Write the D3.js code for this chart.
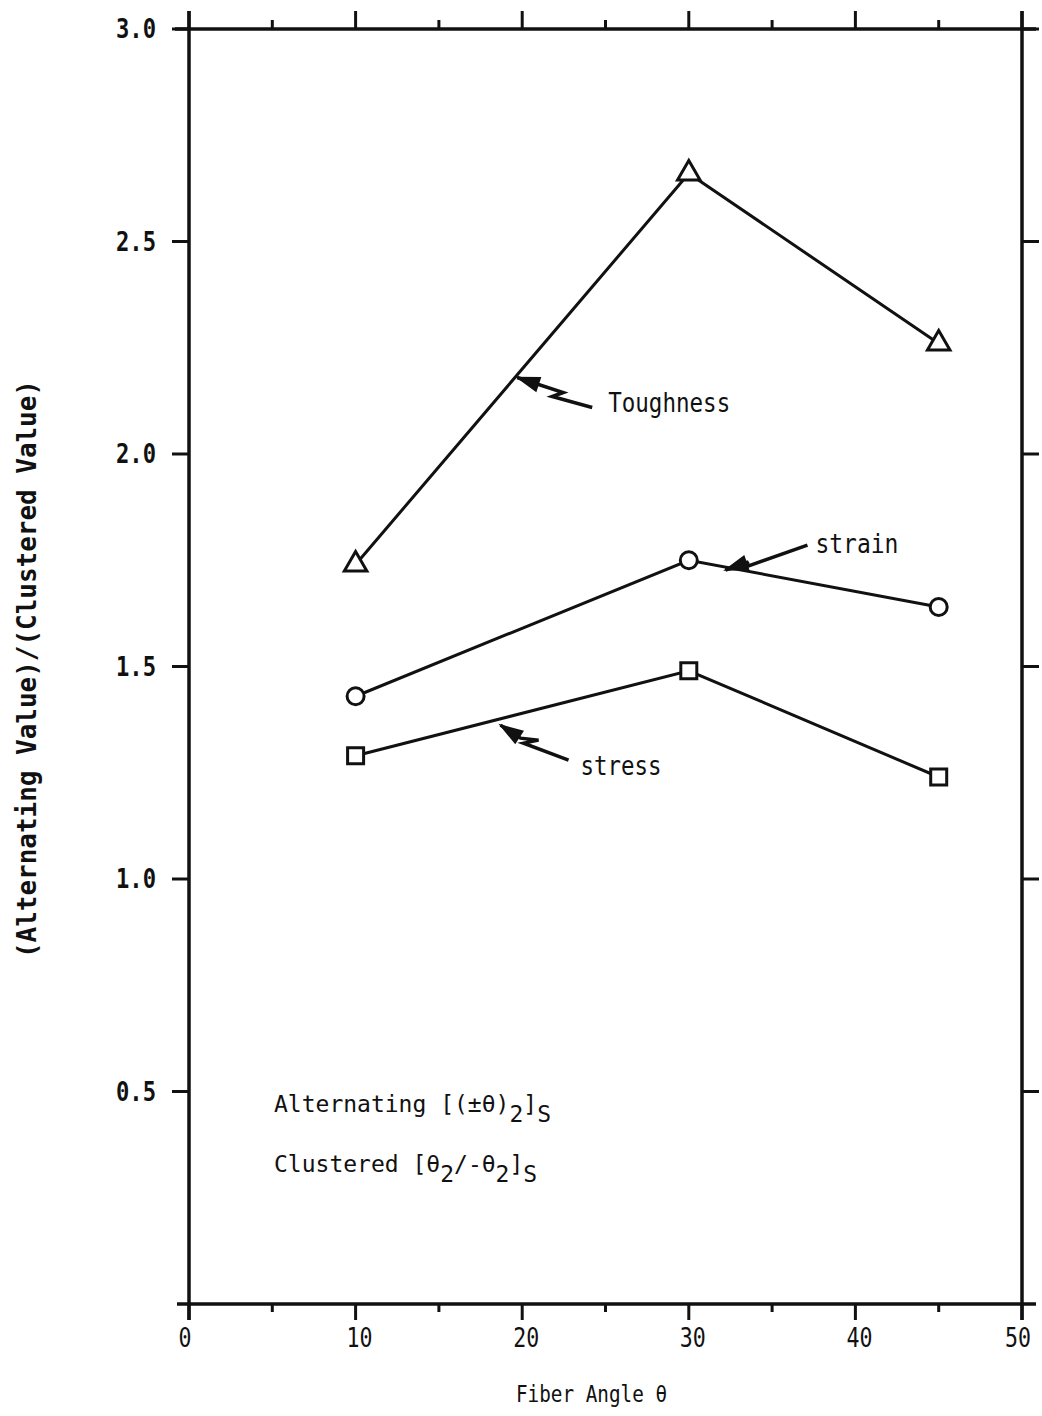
<!DOCTYPE html>
<html>
<head>
<meta charset="utf-8">
<script src="https://cdn.jsdelivr.net/npm/d3@7"></script>
<style>
  body { margin: 0; background: #fff; }
  svg text { font-family: "DejaVu Sans Mono", monospace; fill: #111; }
</style>
</head>
<body>
<div id="container"></div>
<script>
// fiber angles (deg) and ratios alternating / clustered
const angles = [10, 30, 45];
const toughness = [1.74, 2.66, 2.26];
const strain = [1.43, 1.75, 1.64];
const stress = [1.29, 1.49, 1.24];

const xTicks = [0, 10, 20, 30, 40, 50];
const xMinor = [5, 15, 25, 35, 45];
const yTicks = [0.5, 1.0, 1.5, 2.0, 2.5, 3.0];

// annotation arrows: tip in data units, zigzag offsets, label
const notes = [
    { label: "Toughness", x: 19.7, y: 2.18, zig: [[0, 0], [46, 15], [35, 19], [75, 30]], tx: 91, ty: 34, w: 122 },
    { label: "strain", x: 32.2, y: 1.727, zig: [[0, 0], [23, -8], [17, -2], [82, -25]], tx: 90, ty: -17, w: 83 },
    { label: "stress", x: 18.7, y: 1.362, zig: [[0, 0], [20, 13], [38, 15], [23, 18], [68, 35]], tx: 80, ty: 50, w: 81 }
];

document.addEventListener("DOMContentLoaded", function () {
    const width = 1042, height = 1416;

    const svg = d3.select("#container").append("svg")
        .attr("width", width)
        .attr("height", height);

    const x = d3.scaleLinear([0, 50], [189, 1022]);
    const y = d3.scaleLinear([0, 3], [1304, 29]);

    const ink = "#111";

    // frame
    const frame = svg.append("g").attr("stroke", ink).attr("stroke-width", 3.5).attr("fill", "none");
    frame.append("line").attr("x1", x(0) - 14).attr("x2", x(50) + 14).attr("y1", y(3)).attr("y2", y(3));
    frame.append("line").attr("x1", x(0) - 12).attr("x2", x(50) + 14).attr("y1", y(0)).attr("y2", y(0));
    frame.append("line").attr("x1", x(0)).attr("x2", x(0)).attr("y1", y(3) - 18).attr("y2", y(0) + 16);
    frame.append("line").attr("x1", x(50)).attr("x2", x(50)).attr("y1", y(3) - 18).attr("y2", y(0) + 16);

    // ticks (top up, bottom down, left out, right out)
    const tk = svg.append("g").attr("stroke", ink).attr("stroke-width", 3);
    xTicks.forEach(function (v) {
        tk.append("line").attr("x1", x(v)).attr("x2", x(v)).attr("y1", y(3)).attr("y2", y(3) - 18);
        tk.append("line").attr("x1", x(v)).attr("x2", x(v)).attr("y1", y(0)).attr("y2", y(0) + 16);
    });
    xMinor.forEach(function (v) {
        tk.append("line").attr("x1", x(v)).attr("x2", x(v)).attr("y1", y(3)).attr("y2", y(3) - 9);
        tk.append("line").attr("x1", x(v)).attr("x2", x(v)).attr("y1", y(0)).attr("y2", y(0) + 8);
    });
    yTicks.forEach(function (v) {
        tk.append("line").attr("x1", x(0)).attr("x2", x(0) - 17).attr("y1", y(v)).attr("y2", y(v));
        tk.append("line").attr("x1", x(50)).attr("x2", x(50) + 17).attr("y1", y(v)).attr("y2", y(v));
    });

    // tick labels
    svg.append("g").selectAll("text").data(xTicks).join("text")
        .attr("x", d => x(d) + (d === 0 || d === 50 ? -4 : 4))
        .attr("y", y(0) + 43)
        .attr("text-anchor", "middle")
        .attr("textLength", d => String(d).length * 13)
        .attr("lengthAdjust", "spacingAndGlyphs")
        .style("font-size", "27px")
        .text(d => d);

    svg.append("g").selectAll("text").data(yTicks).join("text")
        .attr("x", x(0) - 73)
        .attr("y", d => y(d) + 9)
        .attr("textLength", 40)
        .attr("lengthAdjust", "spacingAndGlyphs")
        .style("font-size", "26px")
        .style("font-weight", "bold")
        .text(d => d3.format(".1f")(d));

    // axis titles
    svg.append("text")
        .attr("x", 516)
        .attr("y", 1402)
        .attr("textLength", 151)
        .attr("lengthAdjust", "spacingAndGlyphs")
        .style("font-size", "23px")
        .text("Fiber Angle \u03b8");

    svg.append("text")
        .attr("transform", "translate(36,958) rotate(-90)")
        .attr("textLength", 578)
        .attr("lengthAdjust", "spacingAndGlyphs")
        .style("font-size", "26px")
        .style("font-weight", "bold")
        .text("(Alternating Value)/(Clustered Value)");

    // series lines
    const line = d3.line().x(d => x(d[0])).y(d => y(d[1]));
    [toughness, strain, stress].forEach(function (vals) {
        svg.append("path")
            .datum(d3.zip(angles, vals))
            .attr("d", line)
            .attr("fill", "none")
            .attr("stroke", ink)
            .attr("stroke-width", 3);
    });

    // markers
    const mk = svg.append("g").attr("fill", "#fff").attr("stroke", ink).attr("stroke-width", 3);
    mk.selectAll("path.tri").data(d3.zip(angles, toughness)).join("path")
        .attr("class", "tri")
        .attr("d", d3.symbol(d3.symbolTriangle, 220))
        .attr("transform", d => `translate(${x(d[0])},${y(d[1])})`);
    mk.selectAll("circle").data(d3.zip(angles, strain)).join("circle")
        .attr("cx", d => x(d[0]))
        .attr("cy", d => y(d[1]))
        .attr("r", 8.5);
    mk.selectAll("rect").data(d3.zip(angles, stress)).join("rect")
        .attr("x", d => x(d[0]) - 8)
        .attr("y", d => y(d[1]) - 8)
        .attr("width", 16)
        .attr("height", 16);

    // annotations with zigzag arrows
    notes.forEach(function (n) {
        const g = svg.append("g").attr("transform", `translate(${x(n.x)},${y(n.y)})`);
        const pts = n.zig;
        g.append("path")
            .attr("d", d3.line()(pts))
            .attr("fill", "none")
            .attr("stroke", ink)
            .attr("stroke-width", 3.5);
        // arrow head pointing to the tip
        const a = Math.atan2(pts[1][1], pts[1][0]);
        const hl = 22, hw = 7;
        const head = [
            [0, 0],
            [hl * Math.cos(a) - hw * Math.sin(a), hl * Math.sin(a) + hw * Math.cos(a)],
            [hl * Math.cos(a) + hw * Math.sin(a), hl * Math.sin(a) - hw * Math.cos(a)]
        ];
        g.append("path")
            .attr("d", d3.line()(head) + "Z")
            .attr("fill", ink)
            .attr("stroke", ink)
            .attr("stroke-width", 1.5);
        g.append("text")
            .attr("x", n.tx)
            .attr("y", n.ty)
            .attr("textLength", n.w)
            .attr("lengthAdjust", "spacingAndGlyphs")
            .style("font-size", "26px")
            .text(n.label);
    });

    // lay-up legend
    const t1 = svg.append("text").attr("x", 274).attr("y", 1112).style("font-size", "23px");
    t1.append("tspan").text("Alternating [(\u00b1\u03b8)");
    t1.append("tspan").attr("dy", 10).text("2");
    t1.append("tspan").attr("dy", -10).text("]");
    t1.append("tspan").attr("dy", 10).text("S");
    const t2 = svg.append("text").attr("x", 274).attr("y", 1172).style("font-size", "23px");
    t2.append("tspan").text("Clustered [\u03b8");
    t2.append("tspan").attr("dy", 10).text("2");
    t2.append("tspan").attr("dy", -10).text("/-\u03b8");
    t2.append("tspan").attr("dy", 10).text("2");
    t2.append("tspan").attr("dy", -10).text("]");
    t2.append("tspan").attr("dy", 10).text("S");
});
</script>
</body>
</html>
